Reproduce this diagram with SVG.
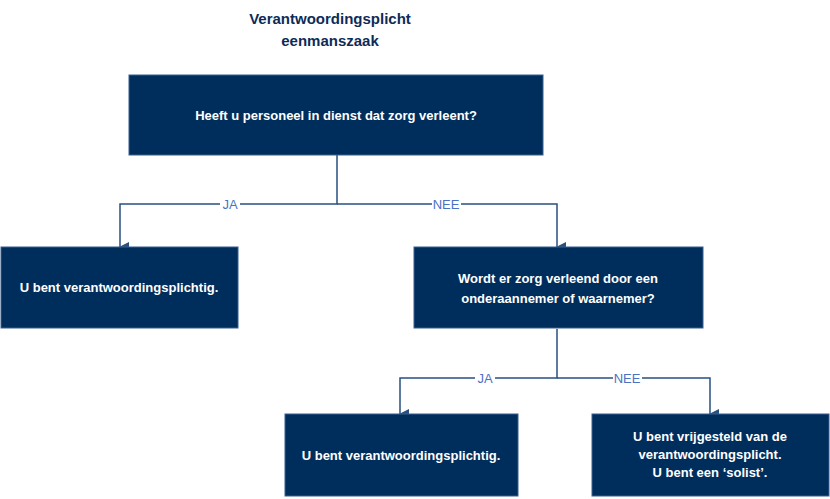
<svg xmlns="http://www.w3.org/2000/svg" width="830" height="499" viewBox="0 0 830 499">
<style>
.box{fill:#002e5c;stroke:#3a5f8f;stroke-width:1}
.t{font-family:"Liberation Sans",Arial,sans-serif;font-size:13px;font-weight:bold;fill:#fff;text-anchor:middle}
.title{font-family:"Liberation Sans",Arial,sans-serif;font-size:15px;font-weight:bold;fill:#0d2b57;text-anchor:middle}
.c{fill:none;stroke:#29507f;stroke-width:1.5}
.l{font-family:"Liberation Sans",Arial,sans-serif;font-size:13px;fill:#4a72c4;text-anchor:middle}
.bg{fill:#fff}
</style>
<defs><marker id="a" markerWidth="10" markerHeight="10" refX="5" refY="9" orient="auto" markerUnits="userSpaceOnUse" viewBox="0 0 10 10"><path d="M0,0L10,0L5,10z" fill="#29507f"/></marker></defs>
<text class="title" x="330" y="24">Verantwoordingsplicht</text>
<text class="title" x="330" y="46">eenmanszaak</text>
<g id="connectors">
<path class="c" d="M337,155V204H120V247" marker-end="url(#a)"/>
<path class="c" d="M337,204H557V247" marker-end="url(#a)"/>
<path class="c" d="M557,329V378H400V414" marker-end="url(#a)"/>
<path class="c" d="M557,378H710V414" marker-end="url(#a)"/>
<rect class="bg" x="220" y="196" width="20" height="16"/><text class="l" x="230" y="209">JA</text>
<rect class="bg" x="432" y="196" width="29" height="16"/><text class="l" x="446" y="209">NEE</text>
<rect class="bg" x="475" y="370" width="20" height="16"/><text class="l" x="485" y="383">JA</text>
<rect class="bg" x="613" y="370" width="29" height="16"/><text class="l" x="627" y="383">NEE</text>
</g>
<g id="n1"><rect class="box" x="129" y="75" width="414" height="80"/><text class="t" x="336" y="120">Heeft u personeel in dienst dat zorg verleent?</text></g>
<g id="n2"><rect class="box" x="1" y="247" width="237" height="81"/><text class="t" x="119" y="292">U bent verantwoordingsplichtig.</text></g>
<g id="n3"><rect class="box" x="414" y="247" width="289" height="81"/><text class="t" x="558" y="283">Wordt er zorg verleend door een</text><text class="t" x="558" y="303">onderaannemer of waarnemer?</text></g>
<g id="n4"><rect class="box" x="285" y="414" width="233" height="82"/><text class="t" x="401" y="460">U bent verantwoordingsplichtig.</text></g>
<g id="n5"><rect class="box" x="592" y="414" width="237" height="82"/><text class="t" x="710" y="441">U bent vrijgesteld van de</text><text class="t" x="710" y="459">verantwoordingsplicht.</text><text class="t" x="710" y="477">U bent een ‘solist’.</text></g>
</svg>
